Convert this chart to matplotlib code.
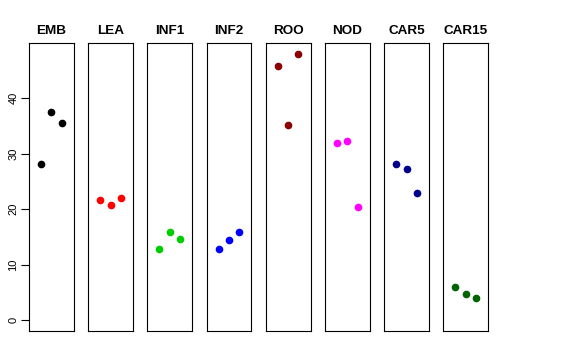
import matplotlib
matplotlib.use("Agg")
import matplotlib.pyplot as plt

plt.rcParams["font.family"] = ["Liberation Sans", "DejaVu Sans"]

# Groupes et valeurs (trois mesures par groupe)
groupes = ["EMB", "LEA", "INF1", "INF2", "ROO", "NOD", "CAR5", "CAR15"]
emb = [28.2, 37.4, 35.4]
lea = [21.6, 20.8, 22.0]
inf1 = [12.8, 15.9, 14.6]
inf2 = [12.8, 14.5, 15.9]
roo = [45.7, 35.2, 47.9]
nod = [31.8, 32.3, 20.3]
car5 = [28.1, 27.2, 22.9]
car15 = [6.0, 4.7, 4.1]
valeurs = [emb, lea, inf1, inf2, roo, nod, car5, car15]
couleurs = ["black", "red", "#00CD00", "blue", "#8B0000", "magenta", "#00008B", "#006400"]
yticks = [0, 10, 20, 30, 40]

fig = plt.figure(figsize=(5.76, 3.6), dpi=100)

ymax = max(max(v) for v in valeurs)
for i, (nom, v, c) in enumerate(zip(groupes, valeurs, couleurs)):
    ax = fig.add_axes([(29 + i * 59.2) / 576, 29 / 360, 44.7 / 576, 287.7 / 360])
    ax.plot(range(1, len(v) + 1), v, "o", color=c, markersize=4.5)
    ax.set_xlim(-0.16, 4.16)
    ax.set_ylim(-0.04 * ymax, 1.04 * ymax)
    ax.set_xticks([])
    ax.set_title(nom, fontweight="bold", fontsize=9.7, pad=7)
    for s in ax.spines.values():
        s.set_linewidth(0.8)
    if i == 0:
        ax.set_yticks(yticks)
        ax.set_yticklabels([str(t) for t in yticks], rotation=90, va="center", fontsize=8)
        ax.tick_params(axis="y", length=5.5, width=0.8, pad=2)
    else:
        ax.set_yticks([])

fig.savefig("out.png", dpi=100)
